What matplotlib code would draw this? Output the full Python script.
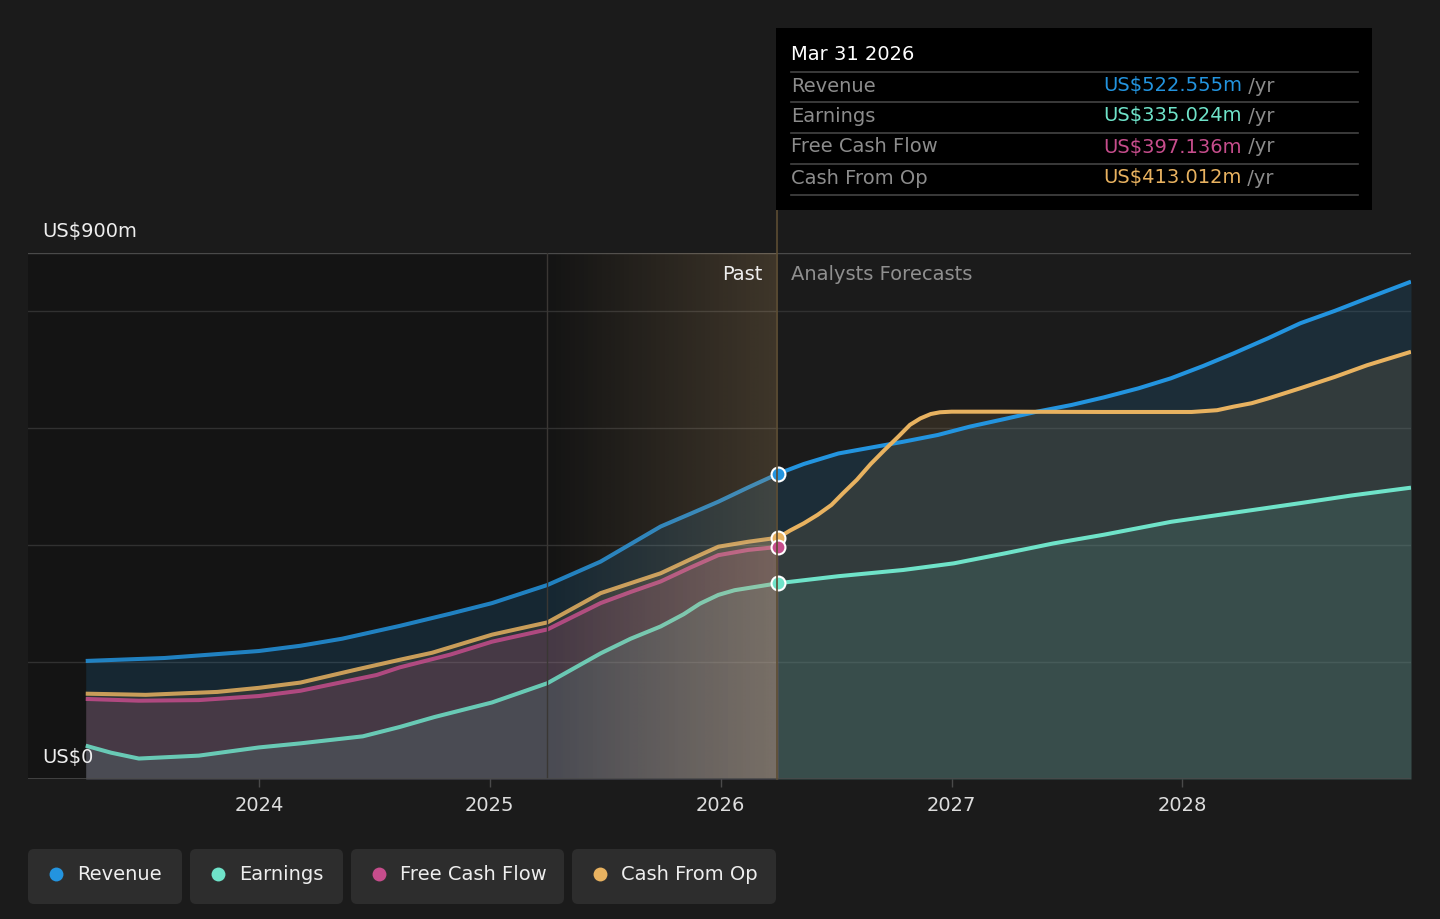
import numpy as np
import matplotlib
matplotlib.use('Agg')
import matplotlib.pyplot as plt
from matplotlib.patches import Rectangle, FancyBboxPatch
from matplotlib.lines import Line2D
from matplotlib.transforms import IdentityTransform

# ---- data (US$m, x in decimal years) ----
rev_x = [2023.25, 2023.59, 2024.0, 2024.18, 2024.36, 2024.61, 2024.83, 2025.01, 2025.25,
         2025.48, 2025.61, 2025.74, 2025.87, 2025.99, 2026.12, 2026.25, 2026.36, 2026.51,
         2026.65, 2026.79, 2026.94, 2027.08, 2027.23, 2027.37, 2027.52, 2027.66, 2027.81,
         2027.95, 2028.09, 2028.22, 2028.37, 2028.51, 2028.66, 2028.8, 2028.99]
rev_y = [202, 207, 219, 228, 240, 262, 283, 301, 332,
         372, 402, 432, 454, 474.5, 499, 522.555, 539, 557,
         567, 577, 588.6, 603, 616, 628.5, 640, 653, 668.5,
         685.6, 706.7, 728, 754, 779.7, 801, 822.5, 851]

earn_x = [2023.25, 2023.36, 2023.48, 2023.74, 2024.0, 2024.18, 2024.45, 2024.61, 2024.76,
          2025.01, 2025.25, 2025.48, 2025.61, 2025.74, 2025.84, 2025.91, 2025.99, 2026.06,
          2026.25, 2026.51, 2026.79, 2027.01, 2027.23, 2027.44, 2027.66, 2027.95, 2028.3,
          2028.51, 2028.73, 2028.99]
earn_y = [57, 45, 35, 40, 54, 61, 73, 89, 106,
          131, 164, 215, 240, 261, 282, 300, 315, 323,
          335.024, 347, 357.6, 369, 386, 403, 418, 440, 460,
          472, 485, 498.5]

fcf_x = [2023.25, 2023.48, 2023.74, 2024.0, 2024.18, 2024.51, 2024.61, 2024.83,
         2025.01, 2025.25, 2025.48, 2025.61, 2025.74, 2025.87, 2025.99, 2026.12, 2026.25]
fcf_y = [137, 134, 135, 142, 151, 178, 191, 213,
         235, 256, 301, 320, 338, 362, 383, 392, 397.136]

cfo_x = [2023.25, 2023.51, 2023.82, 2024.0, 2024.18, 2024.43, 2024.61, 2024.75,
         2025.01, 2025.25, 2025.48, 2025.61, 2025.74, 2025.87, 2025.99, 2026.12, 2026.25,
         2026.30, 2026.36, 2026.42, 2026.48, 2026.53, 2026.59, 2026.65, 2026.71, 2026.77,
         2026.82, 2026.865, 2026.91, 2026.95, 2027.0, 2027.21, 2027.65, 2028.04, 2028.15,
         2028.22, 2028.3, 2028.37, 2028.51, 2028.66, 2028.8, 2028.99]
cfo_y = [146, 144, 149, 156, 165, 188, 204, 216,
         247, 268, 318, 335, 352, 376, 397.5, 406, 413.012,
         425, 437.5, 452, 469, 489, 512, 539, 563, 586,
         606, 617, 624.5, 627.5, 628.5, 628.5, 628, 628, 631,
         637, 643, 651, 668.5, 688, 708, 731]

series = ['Revenue', 'Earnings', 'Free Cash Flow', 'Cash From Op']
colors = ['#2394df', '#6fe3c9', '#c64d8c', '#e8b260']
latest = ['US$522.555m', 'US$335.024m', 'US$397.136m', 'US$413.012m']
year_ticks = [2024, 2025, 2026, 2027, 2028]
past_end = 2026.25
band_start = 2025.25

W, H = 1440, 919
BG = '#1b1b1b'
FS = 14

fig = plt.figure(figsize=(W / 100, H / 100), dpi=100, facecolor=BG)
ax = fig.add_axes([28 / W, 1 - 779 / H, (1411 - 28) / W, (779 - 253) / H])
ax.set_facecolor('none')

# past background
ax.axvspan(2023.0, past_end, color='#141414', zorder=0, lw=0)

# grid
for g in [200, 400, 600, 800]:
    ax.axhline(g, color='#313131', lw=1, zorder=1)
ax.axhline(900, color='#4a4a4a', lw=1, zorder=1)
ax.axhline(0, color='#4a4a4a', lw=1.2, zorder=6)

# fills
ax.fill_between(rev_x, 0, rev_y, color=colors[0], alpha=0.15, lw=0, zorder=2)
cfo_fill = ax.fill_between(cfo_x, 0, cfo_y, color=colors[3], alpha=0.11, lw=0, zorder=2)
ax.fill_between(fcf_x, 0, fcf_y, color=colors[2], alpha=0.17, lw=0, zorder=2)
ax.fill_between(earn_x, 0, earn_y, color=colors[1], alpha=0.11, lw=0, zorder=2)

# lines: past part slightly muted, forecast part full colour
for xs, ys, c in [(rev_x, rev_y, colors[0]), (earn_x, earn_y, colors[1]),
                  (fcf_x, fcf_y, colors[2]), (cfo_x, cfo_y, colors[3])]:
    i = xs.index(past_end)
    ax.plot(xs[:i + 1], ys[:i + 1], color=c, lw=2.9, alpha=0.85,
            solid_capstyle='butt', solid_joinstyle='round', zorder=3)
    if i + 1 < len(xs):
        ax.plot(xs[i:], ys[i:], color=c, lw=2.9,
                solid_capstyle='butt', solid_joinstyle='round', zorder=3)

# highlight band (gradient)
grad = np.zeros((2, 256, 4))
grad[..., 0] = 236 / 255
grad[..., 1] = 192 / 255
grad[..., 2] = 130 / 255
grad[..., 3] = np.linspace(0, 0.2, 256)[None, :]
ax.imshow(grad, extent=[band_start, past_end, 0, 900], aspect='auto', zorder=4,
          interpolation='bilinear', origin='lower')

# extra warm glow below the cash-flow curves inside the band
glow = np.zeros((2, 256, 4))
glow[..., 0] = 230 / 255
glow[..., 1] = 212 / 255
glow[..., 2] = 180 / 255
glow[..., 3] = np.linspace(0, 0.12, 256)[None, :]
im = ax.imshow(glow, extent=[band_start, past_end, 0, 900], aspect='auto', zorder=4,
               interpolation='bilinear', origin='lower')
im.set_clip_path(cfo_fill.get_paths()[0], ax.transData)

ax.axvline(band_start, color='#3a3734', lw=1, zorder=4)
ax.set_xlim(2023.0, 2028.99)
ax.set_ylim(0, 900)

# markers at latest past point
for xs, ys, c in [(rev_x, rev_y, colors[0]), (cfo_x, cfo_y, colors[3]),
                  (fcf_x, fcf_y, colors[2]), (earn_x, earn_y, colors[1])]:
    i = xs.index(past_end)
    ax.plot([xs[i]], [ys[i]], 'o', ms=10, mfc=c, mec='white', mew=1.5, zorder=7)

# axes styling
for s in ax.spines.values():
    s.set_visible(False)
ax.set_yticks([])
ax.set_xticks(year_ticks)
ax.set_xticklabels([str(y) for y in year_ticks], color='#dddddd', fontsize=FS)
ax.tick_params(axis='x', length=6, width=1, color='#4a4a4a', pad=6)

# vertical divider (extends up to tooltip)
fig.add_artist(Line2D([777 / W, 777 / W], [1 - 779 / H, 1 - 210 / H],
                      color='#5c4d33', lw=1.2, transform=fig.transFigure, zorder=5))

def fx(px):
    return px / W

def fy(py):
    return 1 - py / H

fig.text(fx(42), fy(232), 'US$900m', color='#eeeeee', fontsize=FS, va='center', ha='left')
fig.text(fx(42), fy(758), 'US$0', color='#eeeeee', fontsize=FS, va='center', ha='left', zorder=8)
fig.text(fx(762), fy(274), 'Past', color='#eeeeee', fontsize=FS, va='center', ha='right')
fig.text(fx(791), fy(274), 'Analysts Forecasts', color='#8f8f8f', fontsize=FS, va='center', ha='left')

# tooltip
fig.add_artist(Rectangle((fx(776), fy(210)), (1372 - 776) / W, (210 - 28) / H,
                         transform=fig.transFigure, facecolor='#000000', edgecolor='none', zorder=9))
fig.text(fx(791), fy(55), 'Mar 31 2026', color='#ffffff', fontsize=FS, va='center', zorder=10)
for sy in [72, 102, 133, 164, 195]:
    fig.add_artist(Line2D([fx(791), fx(1358)], [fy(sy), fy(sy)], color='#444444', lw=1.2,
                          transform=fig.transFigure, zorder=10))
renderer = fig.canvas.get_renderer()
for name, val, c, ry in zip(series, latest, colors, [86, 116, 147, 178]):
    fig.text(fx(791), fy(ry), name, color='#8c8c8c', fontsize=FS, va='center', zorder=10)
    t = fig.text(fx(1103), fy(ry), val, color=c, fontsize=FS, va='center', zorder=10)
    bb = t.get_window_extent(renderer)
    fig.text(bb.x1 / W, fy(ry), ' /yr', color='#8c8c8c', fontsize=FS, va='center', zorder=10)

# legend
boxes = [(28, 182), (190, 343), (351, 564), (572, 776)]
for (x0, x1), name, c in zip(boxes, series, colors):
    fig.add_artist(FancyBboxPatch((x0, H - 904), x1 - x0, 55,
                                  boxstyle='round,pad=0,rounding_size=6',
                                  transform=IdentityTransform(), facecolor='#2d2d2d',
                                  edgecolor='none'))
    fig.add_artist(Line2D([fx(x0 + 28)], [fy(874)], marker='o', ms=10, mfc=c, mec='none',
                          lw=0, transform=fig.transFigure))
    fig.text(fx(x0 + 49), fy(874), name, color='#eeeeee', fontsize=FS, va='center', ha='left')

fig.savefig('out.png', dpi=100, facecolor=BG)
